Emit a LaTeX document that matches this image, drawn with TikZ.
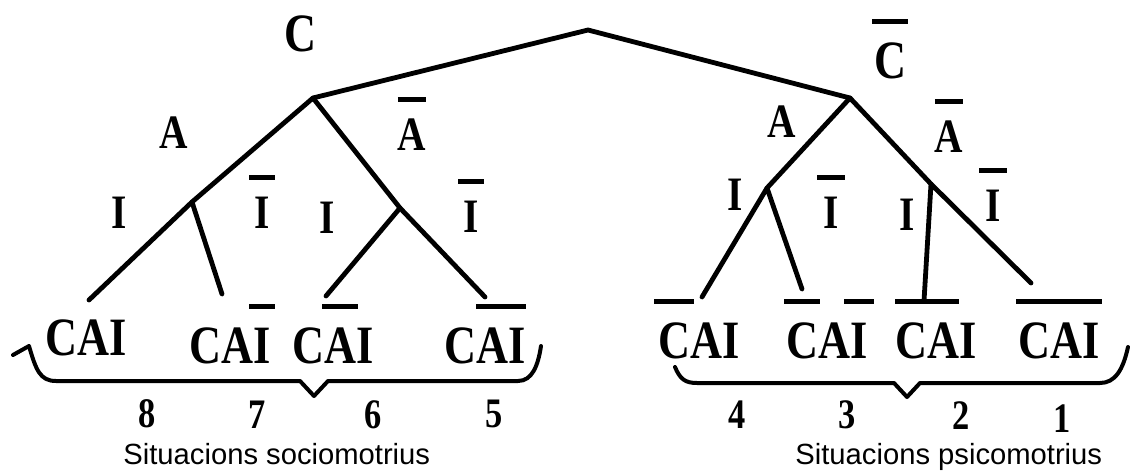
\documentclass[tikz,border=0pt]{standalone}
\usepackage{fontspec}
\setmainfont{Liberation Serif}
\newfontfamily\trf{Liberation Serif}[FakeStretch=0.82]
\newfontfamily\capf{Liberation Sans}
\newcommand\ovl[2][0pt]{\setbox0=\hbox{#2}\rlap{\hskip-#1\raisebox{1.0em}{\rule{\dimexpr\wd0+#1*2\relax}{0.1em}}}\box0}
\tikzset{
  lbl/.style={inner sep=0pt,anchor=base,font=\trf\bfseries\fontsize{24}{24}\selectfont},
  top/.style={inner sep=0pt,anchor=base,font=\trf\bfseries\fontsize{27}{27}\selectfont},
  leaf/.style={inner sep=0pt,anchor=base,font=\trf\bfseries\fontsize{27}{27}\selectfont},
  num/.style={inner sep=0pt,anchor=base,font=\trf\bfseries\fontsize{21}{21}\selectfont},
  capt/.style={inner sep=0pt,anchor=base west,font=\capf\fontsize{14.6}{15}\selectfont},
  br/.style={line width=2.4pt,line cap=round,line join=round},
  brc/.style={line width=2pt,line cap=round,line join=round}
}
\begin{document}
\begin{tikzpicture}[x=0.5pt,y=-0.5pt]
\useasboundingbox (0,0) rectangle (1130,471);
\coordinate (R)  at (588,30);
\coordinate (Cn) at (313,98);
\coordinate (Nn) at (850,98);
\coordinate (LA) at (192,202);
\coordinate (LB) at (400,208);
\coordinate (RA) at (767,188);
\coordinate (RB) at (931,184);
\coordinate (e8) at (89,300);
\coordinate (e7) at (222,294);
\coordinate (e6) at (326,296);
\coordinate (e5) at (485,297);
\coordinate (e4) at (702,297);
\coordinate (e3) at (802,289);
\coordinate (e2) at (924,301);
\coordinate (e1) at (1031,283);
\node[top] (tC)  at (300,51) {C};
\node[top] (tNC) at (890,78) {\ovl[1pt]{C}};
\node[lbl] (lA)  at (174,148) {A};
\node[lbl] (lNA) at (412,150) {\ovl{A}};
\node[lbl] (lI)  at (119,228) {I};
\node[lbl] (lNI) at (262,228) {\ovl[2.5pt]{I}};
\node[lbl] (mI)  at (327,233) {I};
\node[lbl] (mNI) at (471,232) {\ovl[2.5pt]{I}};
\node[lbl] (rA)  at (782,137) {A};
\node[lbl] (rNA) at (949,152) {\ovl{A}};
\node[lbl] (rI)  at (735,210) {I};
\node[lbl] (rNI) at (831,228) {\ovl[3pt]{I}};
\node[lbl] (sI)  at (907,230) {I};
\node[lbl] (sNI) at (993,221) {\ovl[3pt]{I}};
\node[leaf] (f8) at (86,355)   {CAI};
\node[leaf] (f7) at (230,363)  {CA\ovl[2pt]{I}};
\node[leaf] (f6) at (333,363)  {C\ovl[1pt]{A}I};
\node[leaf] (f5) at (485,363)  {C\ovl{AI}};
\node[leaf] (f4) at (699,358)  {\ovl[2pt]{C}AI};
\node[leaf] (f3) at (827,358)  {\ovl[1pt]{C}A\ovl[3pt]{I}};
\node[leaf] (f2) at (936,358)  {\ovl{CA}I};
\node[leaf] (f1) at (1059,358) {\ovl[1pt]{CAI}};
\node[num] (n8) at (147,427)  {8};
\node[num] (n7) at (257,428)  {7};
\node[num] (n6) at (373,428)  {6};
\node[num] (n5) at (494,427)  {5};
\node[num] (n4) at (737,428)  {4};
\node[num] (n3) at (847,428)  {3};
\node[num] (n2) at (961,429)  {2};
\node[num] (n1) at (1062,432) {1};
\node[capt] (soc) at (123,464) {Situacions sociomotrius};
\node[capt] (psi) at (795,464) {Situacions psicomotrius};
\draw[br] (Cn) -- (R) -- (Nn);
\draw[br] (LA) -- (Cn) -- (LB);
\draw[br] (RA) -- (Nn) -- (RB);
\draw[br] (e8) -- (LA) -- (e7);
\draw[br] (e6) -- (LB) -- (e5);
\draw[br] (e4) -- (RA) -- (e3);
\draw[br] (e2) -- (RB) -- (e1);
\draw[brc] (13,355) -- (29,346) .. controls (36,370) and (40,381) .. (56,381) -- (300,381) -- (314,396) -- (328,381) -- (518,381) .. controls (532,381) and (538,366) .. (541,346);
\draw[brc] (675,367) .. controls (680,379) and (685,383) .. (697,383) -- (894,383) -- (907,397) -- (920,383) -- (1100,383) .. controls (1115,383) and (1123,370) .. (1128,347);
\end{tikzpicture}
\end{document}
